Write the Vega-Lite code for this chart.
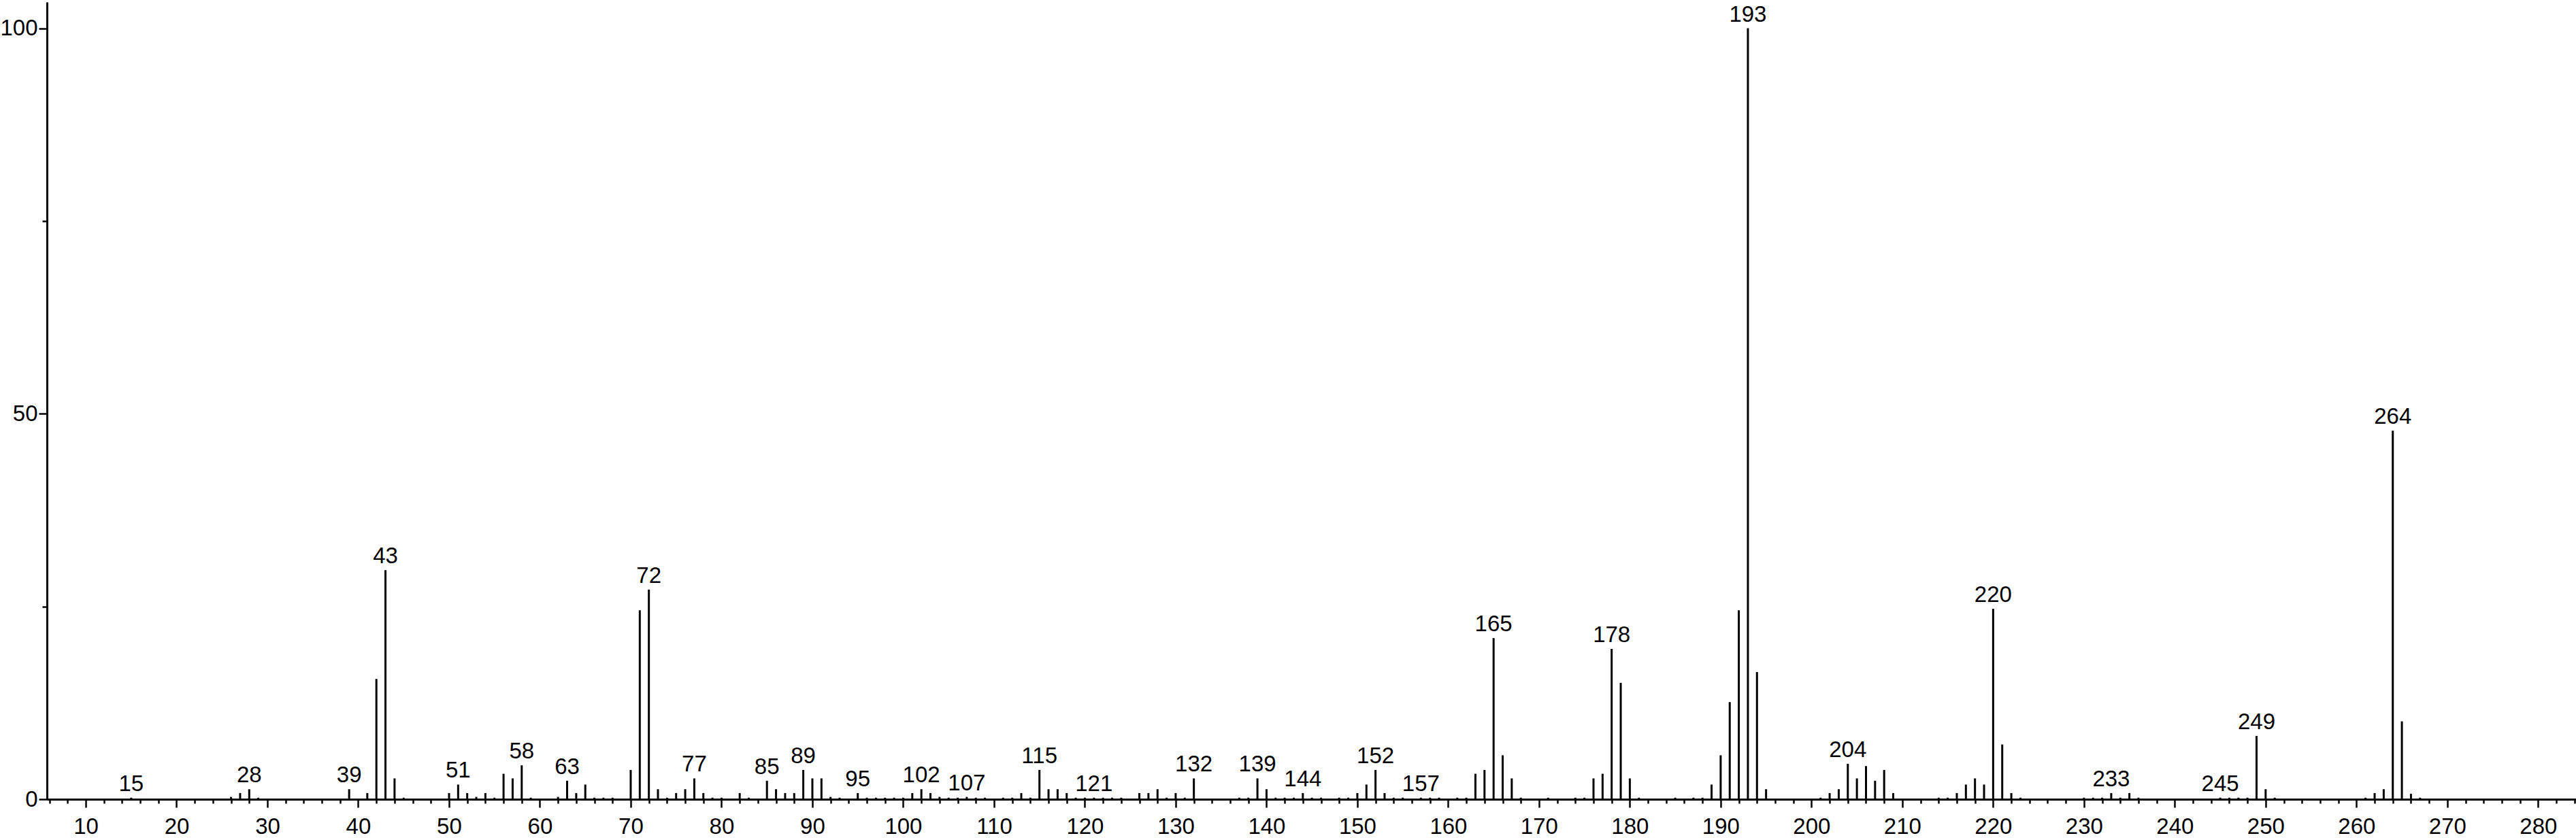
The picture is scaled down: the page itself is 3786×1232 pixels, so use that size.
{
  "$schema": "https://vega.github.io/schema/vega-lite/v6.json",
  "width": 3717,
  "height": 1172,
  "autosize": {"type": "none"},
  "padding": {"left": 69, "top": 3, "right": 0, "bottom": 57},
  "background": "white",
  "config": {"view": {"stroke": null}, "font": "Liberation Sans"},
  "data": {"values": [
    {"mz":15,"ab":0.2,"lab":1},{"mz":26,"ab":0.3,"lab":0},{"mz":27,"ab":0.8,"lab":0},{"mz":28,"ab":1.3,"lab":1},{"mz":29,"ab":0.2,"lab":0},
    {"mz":39,"ab":1.3,"lab":1},{"mz":41,"ab":0.8,"lab":0},{"mz":42,"ab":15.6,"lab":0},{"mz":43,"ab":29.7,"lab":1},{"mz":44,"ab":2.7,"lab":0},{"mz":45,"ab":0.2,"lab":0},
    {"mz":50,"ab":0.8,"lab":0},{"mz":51,"ab":1.9,"lab":1},{"mz":52,"ab":0.8,"lab":0},{"mz":53,"ab":0.3,"lab":0},{"mz":54,"ab":0.8,"lab":0},{"mz":55,"ab":0.2,"lab":0},
    {"mz":56,"ab":3.3,"lab":0},{"mz":57,"ab":2.7,"lab":0},{"mz":58,"ab":4.4,"lab":1},{"mz":59,"ab":0.2,"lab":0},{"mz":62,"ab":0.3,"lab":0},{"mz":63,"ab":2.4,"lab":1},
    {"mz":64,"ab":0.8,"lab":0},{"mz":65,"ab":1.9,"lab":0},{"mz":66,"ab":0.2,"lab":0},{"mz":67,"ab":0.2,"lab":0},{"mz":68,"ab":0.2,"lab":0},{"mz":70,"ab":3.8,"lab":0},
    {"mz":71,"ab":24.5,"lab":0},{"mz":72,"ab":27.2,"lab":1},{"mz":73,"ab":1.3,"lab":0},{"mz":74,"ab":0.2,"lab":0},{"mz":75,"ab":0.8,"lab":0},{"mz":76,"ab":1.3,"lab":0},
    {"mz":77,"ab":2.7,"lab":1},{"mz":78,"ab":0.8,"lab":0},{"mz":79,"ab":0.2,"lab":0},{"mz":80,"ab":0.2,"lab":0},{"mz":82,"ab":0.8,"lab":0},{"mz":83,"ab":0.2,"lab":0},
    {"mz":85,"ab":2.4,"lab":1},{"mz":86,"ab":1.3,"lab":0},{"mz":87,"ab":0.8,"lab":0},{"mz":88,"ab":0.8,"lab":0},{"mz":89,"ab":3.8,"lab":1},{"mz":90,"ab":2.7,"lab":0},
    {"mz":91,"ab":2.7,"lab":0},{"mz":92,"ab":0.3,"lab":0},{"mz":93,"ab":0.2,"lab":0},{"mz":95,"ab":0.8,"lab":1},{"mz":96,"ab":0.2,"lab":0},{"mz":97,"ab":0.2,"lab":0},
    {"mz":98,"ab":0.2,"lab":0},{"mz":99,"ab":0.2,"lab":0},{"mz":100,"ab":0.2,"lab":0},{"mz":101,"ab":0.8,"lab":0},{"mz":102,"ab":1.3,"lab":1},{"mz":103,"ab":0.8,"lab":0},
    {"mz":104,"ab":0.3,"lab":0},{"mz":105,"ab":0.2,"lab":0},{"mz":106,"ab":0.2,"lab":0},{"mz":107,"ab":0.3,"lab":1},{"mz":108,"ab":0.2,"lab":0},{"mz":109,"ab":0.2,"lab":0},
    {"mz":111,"ab":0.2,"lab":0},{"mz":112,"ab":0.2,"lab":0},{"mz":113,"ab":0.8,"lab":0},{"mz":114,"ab":0.2,"lab":0},{"mz":115,"ab":3.8,"lab":1},{"mz":116,"ab":1.3,"lab":0},
    {"mz":117,"ab":1.3,"lab":0},{"mz":118,"ab":0.8,"lab":0},{"mz":119,"ab":0.2,"lab":0},{"mz":120,"ab":0.2,"lab":0},{"mz":121,"ab":0.2,"lab":1},{"mz":122,"ab":0.2,"lab":0},
    {"mz":123,"ab":0.2,"lab":0},{"mz":124,"ab":0.2,"lab":0},{"mz":126,"ab":0.8,"lab":0},{"mz":127,"ab":0.8,"lab":0},{"mz":128,"ab":1.3,"lab":0},{"mz":129,"ab":0.2,"lab":0},
    {"mz":130,"ab":0.8,"lab":0},{"mz":131,"ab":0.2,"lab":0},{"mz":132,"ab":2.7,"lab":1},{"mz":137,"ab":0.2,"lab":0},{"mz":138,"ab":0.2,"lab":0},{"mz":139,"ab":2.7,"lab":1},
    {"mz":140,"ab":1.3,"lab":0},{"mz":141,"ab":0.2,"lab":0},{"mz":142,"ab":0.2,"lab":0},{"mz":143,"ab":0.2,"lab":0},{"mz":144,"ab":0.8,"lab":1},{"mz":145,"ab":0.2,"lab":0},
    {"mz":146,"ab":0.2,"lab":0},{"mz":148,"ab":0.2,"lab":0},{"mz":149,"ab":0.2,"lab":0},{"mz":150,"ab":0.8,"lab":0},{"mz":151,"ab":1.9,"lab":0},{"mz":152,"ab":3.8,"lab":1},
    {"mz":153,"ab":0.8,"lab":0},{"mz":154,"ab":0.2,"lab":0},{"mz":155,"ab":0.2,"lab":0},{"mz":157,"ab":0.2,"lab":1},{"mz":158,"ab":0.2,"lab":0},{"mz":159,"ab":0.2,"lab":0},
    {"mz":161,"ab":0.2,"lab":0},{"mz":162,"ab":0.2,"lab":0},{"mz":163,"ab":3.3,"lab":0},{"mz":164,"ab":3.8,"lab":0},{"mz":165,"ab":20.9,"lab":1},{"mz":166,"ab":5.7,"lab":0},
    {"mz":167,"ab":2.7,"lab":0},{"mz":168,"ab":0.2,"lab":0},{"mz":171,"ab":0.2,"lab":0},{"mz":174,"ab":0.2,"lab":0},{"mz":175,"ab":0.2,"lab":0},{"mz":176,"ab":2.7,"lab":0},
    {"mz":177,"ab":3.3,"lab":0},{"mz":178,"ab":19.5,"lab":1},{"mz":179,"ab":15.1,"lab":0},{"mz":180,"ab":2.7,"lab":0},{"mz":181,"ab":0.2,"lab":0},{"mz":185,"ab":0.2,"lab":0},
    {"mz":187,"ab":0.2,"lab":0},{"mz":188,"ab":0.2,"lab":0},{"mz":189,"ab":1.9,"lab":0},{"mz":190,"ab":5.7,"lab":0},{"mz":191,"ab":12.6,"lab":0},{"mz":192,"ab":24.5,"lab":0},
    {"mz":193,"ab":100,"lab":1},{"mz":194,"ab":16.5,"lab":0},{"mz":195,"ab":1.3,"lab":0},{"mz":201,"ab":0.2,"lab":0},{"mz":202,"ab":0.8,"lab":0},{"mz":203,"ab":1.3,"lab":0},
    {"mz":204,"ab":4.6,"lab":1},{"mz":205,"ab":2.7,"lab":0},{"mz":206,"ab":4.3,"lab":0},{"mz":207,"ab":2.4,"lab":0},{"mz":208,"ab":3.8,"lab":0},{"mz":209,"ab":0.8,"lab":0},
    {"mz":214,"ab":0.2,"lab":0},{"mz":215,"ab":0.2,"lab":0},{"mz":216,"ab":0.8,"lab":0},{"mz":217,"ab":1.9,"lab":0},{"mz":218,"ab":2.7,"lab":0},{"mz":219,"ab":1.9,"lab":0},
    {"mz":220,"ab":24.7,"lab":1},{"mz":221,"ab":7.1,"lab":0},{"mz":222,"ab":0.8,"lab":0},{"mz":223,"ab":0.2,"lab":0},{"mz":230,"ab":0.2,"lab":0},{"mz":231,"ab":0.2,"lab":0},
    {"mz":232,"ab":0.2,"lab":0},{"mz":233,"ab":0.8,"lab":1},{"mz":234,"ab":0.2,"lab":0},{"mz":235,"ab":0.8,"lab":0},{"mz":236,"ab":0.2,"lab":0},{"mz":245,"ab":0.2,"lab":1},
    {"mz":246,"ab":0.2,"lab":0},{"mz":247,"ab":0.2,"lab":0},{"mz":248,"ab":0.2,"lab":0},{"mz":249,"ab":8.2,"lab":1},{"mz":250,"ab":1.3,"lab":0},{"mz":251,"ab":0.2,"lab":0},
    {"mz":261,"ab":0.2,"lab":0},{"mz":262,"ab":0.8,"lab":0},{"mz":263,"ab":1.3,"lab":0},{"mz":264,"ab":47.8,"lab":1},{"mz":265,"ab":10.1,"lab":0},{"mz":266,"ab":0.7,"lab":0},
    {"mz":267,"ab":0.2,"lab":0}
  ]},
  "encoding": {
    "x": {
      "field": "mz", "type": "quantitative",
      "scale": {"domain": [5.73, 284.17], "nice": false, "zero": false},
      "axis": {
        "title": null, "grid": false,
        "values": [6,8,10,12,14,16,18,20,22,24,26,28,30,32,34,36,38,40,42,44,46,48,50,52,54,56,58,60,62,64,66,68,70,72,74,76,78,80,82,84,86,88,90,92,94,96,98,100,102,104,106,108,110,112,114,116,118,120,122,124,126,128,130,132,134,136,138,140,142,144,146,148,150,152,154,156,158,160,162,164,166,168,170,172,174,176,178,180,182,184,186,188,190,192,194,196,198,200,202,204,206,208,210,212,214,216,218,220,222,224,226,228,230,232,234,236,238,240,242,244,246,248,250,252,254,256,258,260,262,264,266,268,270,272,274,276,278,280,282,284],
        "labelExpr": "datum.value % 10 === 0 ? datum.value : ''",
        "labelFont": "Liberation Sans", "labelFontSize": 33, "labelColor": "black",
        "labelPadding": 12, "labelOverlap": false, "labelFlush": false,
        "tickSize": {"condition": {"test": "datum.value % 10 === 0", "value": 12}, "value": 6},
        "tickColor": "black", "tickWidth": 2.5,
        "domainColor": "black", "domainWidth": 3
      }
    },
    "y": {
      "field": "ab", "type": "quantitative",
      "scale": {"domain": [0, 103.4], "nice": false},
      "axis": {
        "title": null, "grid": false,
        "values": [0, 25, 50, 75, 100],
        "labelExpr": "datum.value % 50 === 0 ? datum.value : ''",
        "labelFont": "Liberation Sans", "labelFontSize": 33, "labelColor": "black",
        "labelPadding": 2, "labelOverlap": false, "labelFlush": false,
        "tickSize": {"condition": {"test": "datum.value % 50 === 0", "value": 12}, "value": 7},
        "tickColor": "black", "tickWidth": 2.5,
        "domainColor": "black", "domainWidth": 3
      }
    }
  },
  "layer": [
    {
      "mark": {"type": "rule", "color": "black", "strokeWidth": 3},
      "encoding": {"y2": {"datum": 0}}
    },
    {
      "transform": [{"filter": "datum.lab == 1"}],
      "mark": {"type": "text", "baseline": "bottom", "align": "center", "dy": -3, "font": "Liberation Sans", "fontSize": 33, "color": "black"},
      "encoding": {"text": {"field": "mz", "type": "nominal"}}
    }
  ]
}
